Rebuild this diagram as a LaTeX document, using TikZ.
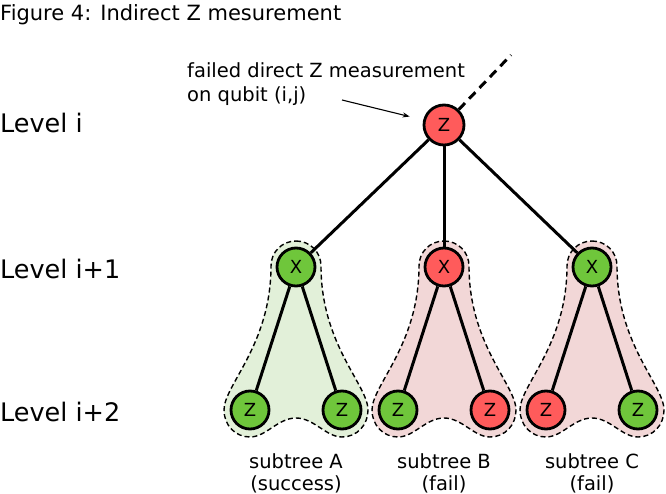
\documentclass[tikz,border=0pt]{standalone}
\usepackage{fontspec}
\setmainfont{DejaVu Sans}
\usepackage{tikz}
\usetikzlibrary{arrows.meta}
\definecolor{failred}{HTML}{FF5B5B}
\definecolor{okgreen}{HTML}{6FC63B}
\definecolor{okzone}{HTML}{E2F0D9}
\definecolor{failzone}{HTML}{F2D7D7}

% dashed blob behind one subtree, #1 = x of its X node
\newcommand{\subzone}[2]{%
	\path[zone, fill=#2, shift={(#1,0)}] (0,-241)
		.. controls (14,-241) and (25,-252) .. (25,-266)
		.. controls (25,-345) and (72,-385) .. (72,-410)
		.. controls (72,-425) and (61,-437) .. (46,-437)
		.. controls (30,-437) and (18,-418) .. (0,-418)
		.. controls (-18,-418) and (-30,-437) .. (-46,-437)
		.. controls (-61,-437) and (-72,-425) .. (-72,-410)
		.. controls (-72,-385) and (-25,-345) .. (-25,-266)
		.. controls (-25,-252) and (-14,-241) .. (0,-241) -- cycle;}

\begin{document}
\begin{tikzpicture}[x=1pt, y=1pt,
	qubit/.style={circle, draw, line width=2.8pt, minimum size=38pt, inner sep=0pt, font=\fontsize{18}{18}\selectfont},
	fail/.style={qubit, fill=failred},
	ok/.style={qubit, fill=okgreen},
	edge/.style={line width=3pt},
	zone/.style={draw, dash pattern=on 5pt off 3pt, line width=1.4pt},
	lvl/.style={anchor=base west, inner sep=0pt, font=\fontsize{25.5}{25.5}\selectfont},
	caption/.style={anchor=base, align=center, inner sep=0pt, font=\fontsize{19.5}{22}\selectfont}]
		\useasboundingbox (0,0) rectangle (666,-494);

		\node[anchor=base west, inner sep=0pt, font=\fontsize{21}{21}\selectfont] at (0,-21) (title) {Figure 4: Indirect Z mesurement};

		\node[lvl] at (0,-133) (li) {Level i};
		\node[lvl] at (0,-278) (li1) {Level i+1};
		\node[lvl] at (0,-421) (li2) {Level i+2};

		\subzone{296}{okzone}
		\subzone{444}{failzone}
		\subzone{592}{failzone}

		\node[fail, minimum size=40pt] at (444,-125) (root) {Z};
		\node[ok] at (296,-267) (xa) {X};
		\node[fail] at (444,-267) (xb) {X};
		\node[ok] at (592,-267) (xc) {X};
		\node[ok] at (250,-410) (za1) {Z};
		\node[ok] at (342,-410) (za2) {Z};
		\node[ok] at (398,-410) (zb1) {Z};
		\node[fail] at (490,-410) (zb2) {Z};
		\node[fail] at (546,-410) (zc1) {Z};
		\node[ok] at (638,-410) (zc2) {Z};

		\draw[edge] (root) -- (xa);
		\draw[edge] (root) -- (xb);
		\draw[edge] (root) -- (xc);
		\draw[edge] (xa) -- (za1);
		\draw[edge] (xa) -- (za2);
		\draw[edge] (xb) -- (zb1);
		\draw[edge] (xb) -- (zb2);
		\draw[edge] (xc) -- (zc1);
		\draw[edge] (xc) -- (zc2);

		\coordinate (up) at (511,-55);
		\draw[edge, dash pattern=on 9pt off 6pt] (root) -- (up);

		\node[anchor=base west, align=left, inner sep=0pt, font=\fontsize{19.5}{24}\selectfont] at (187,-102) (note) {failed direct Z measurement\\on qubit (i,j)};
		\coordinate (notetail) at (342,-100);
		\draw[-{Stealth[length=7pt, width=5pt]}, line width=1.1pt, shorten >=14pt] (notetail) -- (root);

		\node[caption] at (296,-490) (capa) {subtree A\\(success)};
		\node[caption] at (444,-490) (capb) {subtree B\\(fail)};
		\node[caption] at (592,-490) (capc) {subtree C\\(fail)};
	\end{tikzpicture}
\end{document}
